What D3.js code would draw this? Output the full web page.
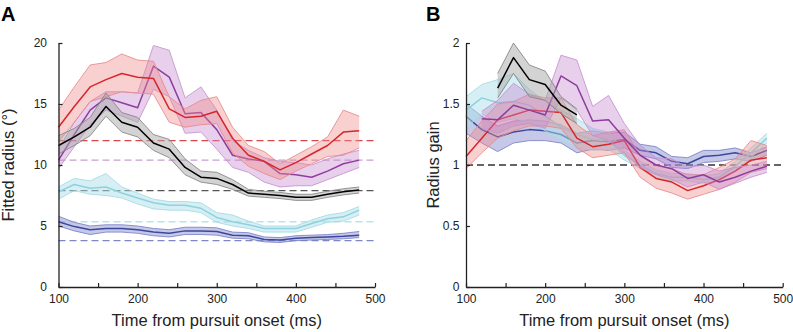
<!DOCTYPE html>
<html><head><meta charset="utf-8">
<script src="https://cdn.jsdelivr.net/npm/d3@7"></script>
<style>body{margin:0;background:#fff}svg{display:block;font-family:"Liberation Sans",Arial,sans-serif}</style>
</head><body><svg id="c" width="793" height="332"></svg>
<script>
const times = [100,120,140,160,180,200,220,240,260,280,300,320,340,360,380,400,420,440,460,480];
const xTicks = [100,150,200,250,300,350,400,450,500];
const xLabels = [100,200,300,400,500];
const yTicksA = [0,5,10,15,20];
const yTicksB = [0,0.5,1,1.5,2];

// Panel A: fitted radius (deg)
const aBlueMean = [5.35,4.95,4.7,4.8,4.8,4.7,4.5,4.4,4.6,4.6,4.55,4.25,4.2,3.9,3.85,4.0,4.05,4.1,4.15,4.25];
const aBlueHi   = [5.8,5.3,5.0,5.1,5.1,5.0,4.8,4.7,4.9,4.9,4.85,4.5,4.45,4.1,4.05,4.2,4.25,4.3,4.4,4.55];
const aBlueLo   = [5.0,4.6,4.3,4.5,4.5,4.4,4.2,4.1,4.3,4.3,4.25,4.0,3.95,3.7,3.65,3.8,3.85,3.9,3.95,4.05];
const aCyanMean = [7.8,8.4,8.1,8.2,7.7,7.3,6.9,6.7,6.7,6.45,5.7,5.35,5.1,4.8,4.8,4.8,5.2,5.6,5.75,6.3];
const aCyanHi   = [8.2,8.9,8.7,9.3,8.2,7.7,7.2,7.0,7.0,6.9,6.1,5.9,5.4,5.0,5.0,5.0,5.5,5.9,6.1,6.6];
const aCyanLo   = [7.2,7.9,7.6,7.5,7.3,6.8,6.4,6.3,6.3,6.1,5.3,5.0,4.8,4.5,4.5,4.5,4.9,5.3,5.4,5.9];
const aPurpMean = [10.4,12.5,14.5,15.5,15.1,14.7,18.1,17.2,14.2,14.3,12.9,10.8,10.5,10.3,9.3,9.2,9.0,9.5,10.1,10.4];
const aPurpHi   = [11.3,13.5,15.2,16.0,16.0,15.9,19.8,19.4,15.5,16.4,14.5,12.0,11.2,10.6,10.3,10.2,10.0,10.5,10.9,11.2];
const aPurpLo   = [9.7,11.5,13.3,14.5,14.0,13.5,16.2,15.6,12.6,12.7,11.3,9.8,9.4,8.6,8.2,8.3,8.3,8.8,9.3,9.8];
const aRedMean  = [13.1,14.8,16.4,17.0,17.5,17.2,17.1,14.6,13.9,14.0,14.4,12.2,10.8,10.3,9.6,10.2,10.9,11.6,12.7,12.8];
const aRedHi    = [14.5,16.4,18.2,18.4,19.1,18.6,18.5,15.6,14.6,15.3,15.6,13.1,11.6,11.1,10.1,10.8,11.5,12.3,14.5,14.0];
const aRedLo    = [11.9,13.5,15.2,15.6,16.0,15.9,15.8,13.5,13.1,13.3,13.4,11.0,9.9,9.3,8.8,9.5,10.1,10.7,10.8,11.4];
const aBlackMean= [11.6,12.3,13.1,14.8,13.5,13.1,11.8,11.3,9.8,9.0,8.9,8.4,7.7,7.6,7.5,7.35,7.35,7.6,7.8,7.95];
const aBlackHi  = [12.4,13.0,13.9,15.9,14.3,13.9,12.5,12.1,10.5,9.5,9.4,8.8,8.0,7.85,7.75,7.6,7.6,7.85,8.05,8.2];
const aBlackLo  = [10.9,11.6,12.4,14.0,12.7,12.3,11.2,10.6,9.2,8.6,8.4,8.0,7.45,7.35,7.25,7.1,7.1,7.35,7.55,7.7];
const aRefNames = ["red","purple","black","cyan","blue"];
const aRefVals  = [12.0,10.4,7.9,5.35,3.8];

// Panel B: radius gain
const bBlueMean = [1.40,1.29,1.23,1.27,1.29,1.28,1.25,1.18,1.20,1.19,1.21,1.12,1.10,1.03,1.01,1.07,1.08,1.10,1.07,1.12];
const bBlueHi   = [1.50,1.40,1.32,1.36,1.37,1.36,1.33,1.26,1.28,1.26,1.27,1.17,1.15,1.07,1.06,1.12,1.12,1.14,1.10,1.15];
const bBlueLo   = [1.26,1.18,1.11,1.18,1.20,1.20,1.18,1.10,1.13,1.12,1.14,1.08,1.05,0.98,0.97,1.02,1.03,1.05,1.03,1.08];
const bCyanMean = [1.45,1.55,1.51,1.52,1.49,1.40,1.31,1.25,1.21,1.20,1.08,1.00,0.93,0.90,0.90,0.88,0.90,0.99,1.10,1.22];
const bCyanHi   = [1.56,1.66,1.70,1.75,1.62,1.52,1.45,1.38,1.30,1.27,1.12,1.03,0.96,0.93,0.93,0.91,0.93,1.03,1.14,1.26];
const bCyanLo   = [1.30,1.42,1.35,1.38,1.35,1.28,1.20,1.15,1.12,1.13,1.04,0.97,0.90,0.87,0.87,0.85,0.87,0.95,1.06,1.18];
const bRedMean  = [1.07,1.22,1.37,1.41,1.45,1.44,1.43,1.22,1.15,1.17,1.20,0.98,0.89,0.86,0.79,0.83,0.88,0.95,1.04,1.06];
const bRedHi    = [1.20,1.36,1.50,1.52,1.58,1.55,1.55,1.33,1.24,1.27,1.29,1.08,1.00,0.97,0.92,0.92,0.98,1.05,1.20,1.16];
const bRedLo    = [0.97,1.10,1.22,1.28,1.32,1.32,1.30,1.14,1.06,1.08,1.10,0.90,0.81,0.77,0.72,0.76,0.80,0.86,0.94,0.97];
const bPurpMean = [null,1.38,1.37,1.49,1.45,1.41,1.73,1.65,1.36,1.37,1.22,1.08,1.00,0.97,0.89,0.92,0.86,0.90,0.95,0.99];
const bPurpHi   = [null,1.44,1.53,1.67,1.58,1.53,1.90,1.86,1.48,1.57,1.34,1.16,1.06,1.05,0.98,1.00,0.95,0.98,1.00,1.03];
const bPurpLo   = [null,1.30,1.26,1.32,1.34,1.30,1.55,1.45,1.24,1.20,1.10,0.98,0.92,0.88,0.82,0.86,0.80,0.85,0.90,0.94];
const bBlackMean= [null,null,1.63,1.88,1.70,1.66,1.49,1.41,null,null,null,null,null,null,null,null,null,null,null,null];
const bBlackHi  = [null,null,1.75,2.00,1.82,1.77,1.56,1.46,null,null,null,null,null,null,null,null,null,null,null,null];
const bBlackLo  = [null,null,1.55,1.75,1.56,1.53,1.42,1.34,null,null,null,null,null,null,null,null,null,null,null,null];
const bRefVal = 1;

const colors = {
  red:    {line:"#d7262b", fill:"#f08a8a", fo:0.4,  edge:"#e58a8b", dash:"#d9474a"},
  purple: {line:"#8e3d9e", fill:"#c68ad0", fo:0.4,  edge:"#c490cd", dash:"#c89fd2"},
  black:  {line:"#000000", fill:"#a8a8a8", fo:0.5,  edge:"#848484", dash:"#555555"},
  cyan:   {line:"#8fd2de", fill:"#aee0ea", fo:0.5,  edge:"#a3dae4", dash:"#b9e4eb"},
  blue:   {line:"#3a489f", fill:"#8e92d0", fo:0.5,  edge:"#7a80c6", dash:"#7f86c6"}
};

const svg = d3.select("#c");

function panel(cfg){
  const x = d3.scaleLinear().domain([100,500]).range(cfg.xr);
  const y = d3.scaleLinear().domain(cfg.yd).range([287,43]);
  const g = svg.append("g");
  // reference dashed lines
  cfg.refs.forEach(r=>{
    g.append("line").attr("x1",x(100)).attr("x2",x(500)+1).attr("y1",y(r.v)).attr("y2",y(r.v))
     .attr("stroke",r.c).attr("stroke-width",1.3).attr("stroke-dasharray","7,4");
  });
  cfg.series.forEach(s=>{
    const c = colors[s.name];
    const pts = times.map((t,i)=>({t, m:s.m[i], h:s.h[i], l:s.l[i]}));
    const def = d=>d.m!=null;
    const area = d3.area().defined(def).x(d=>x(d.t)).y0(d=>y(d.l)).y1(d=>y(d.h));
    g.append("path").datum(pts).attr("d",area).attr("fill",c.fill).attr("fill-opacity",c.fo).attr("stroke","none");
    const lineH = d3.line().defined(def).x(d=>x(d.t)).y(d=>y(d.h));
    const lineL = d3.line().defined(def).x(d=>x(d.t)).y(d=>y(d.l));
    const lineM = d3.line().defined(def).x(d=>x(d.t)).y(d=>y(d.m));
    [lineH,lineL].forEach(fn=>g.append("path").datum(pts).attr("d",fn).attr("fill","none")
      .attr("stroke",c.edge).attr("stroke-width",1).attr("stroke-opacity",0.85));
    g.append("path").datum(pts).attr("d",lineM).attr("fill","none")
      .attr("stroke",c.line).attr("stroke-width",1.5).attr("stroke-linejoin","round");
  });
  // axes
  const ax = g.append("g").attr("transform",`translate(0,${y(0)})`)
    .call(d3.axisBottom(x).tickValues(xTicks).tickSizeInner(-4).tickSizeOuter(0)
      .tickFormat(d=>xLabels.includes(d)?d:""));
  ax.select(".domain").attr("stroke","#222").attr("stroke-width",1.3);
  ax.selectAll(".tick line").attr("stroke","#222").attr("stroke-width",1.2);
  ax.selectAll(".tick text").attr("font-size",12).attr("fill","#222").attr("dy",0).attr("y",15.5)
    .attr("font-family","Liberation Sans, Arial, sans-serif");
  const ay = g.append("g").attr("transform",`translate(${x(100)},0)`)
    .call(d3.axisLeft(y).tickValues(cfg.yTicks).tickSizeInner(-4).tickSizeOuter(0).tickFormat(cfg.fmt));
  ay.select(".domain").attr("stroke","#222").attr("stroke-width",1.3);
  ay.selectAll(".tick line").attr("stroke","#222").attr("stroke-width",1.2);
  ay.selectAll(".tick text").attr("font-size",12).attr("fill","#222").attr("x",-cfg.lblGap)
    .attr("font-family","Liberation Sans, Arial, sans-serif");
  // titles
  g.append("text").attr("x",(cfg.xr[0]+cfg.xr[1])/2).attr("y",325.5).attr("text-anchor","middle")
    .attr("font-size",16.5).attr("fill","#222").text("Time from pursuit onset (ms)");
  g.append("text").attr("transform",`translate(${cfg.ylx},165) rotate(-90)`).attr("text-anchor","middle")
    .attr("font-size",16.5).attr("fill","#222").text(cfg.ylab);
  g.append("text").attr("x",cfg.letterX).attr("y",21).attr("font-size",20).attr("font-weight","bold")
    .attr("fill","#000").text(cfg.letter);
}

panel({
  xr:[58.5,375], yd:[0,20], yTicks:yTicksA, fmt:d3.format("d"), lblGap:11.5, ylx:14, ylab:"Fitted radius (°)",
  letter:"A", letterX:1,
  refs: aRefNames.map((n,i)=>({v:aRefVals[i], c:colors[n].dash})),
  series:[
    {name:"blue", m:aBlueMean, h:aBlueHi, l:aBlueLo},
    {name:"cyan", m:aCyanMean, h:aCyanHi, l:aCyanLo},
    {name:"purple", m:aPurpMean, h:aPurpHi, l:aPurpLo},
    {name:"red", m:aRedMean, h:aRedHi, l:aRedLo},
    {name:"black", m:aBlackMean, h:aBlackHi, l:aBlackLo}
  ]
});
panel({
  xr:[466,782.7], yd:[0,2], yTicks:yTicksB, fmt:d=>d3.format("")(d), lblGap:6.5, ylx:438.5, ylab:"Radius gain",
  letter:"B", letterX:426,
  refs:[{v:bRefVal, c:"#333333"}],
  series:[
    {name:"blue", m:bBlueMean, h:bBlueHi, l:bBlueLo},
    {name:"cyan", m:bCyanMean, h:bCyanHi, l:bCyanLo},
    {name:"red", m:bRedMean, h:bRedHi, l:bRedLo},
    {name:"purple", m:bPurpMean, h:bPurpHi, l:bPurpLo},
    {name:"black", m:bBlackMean, h:bBlackHi, l:bBlackLo}
  ]
});
</script></body></html>
